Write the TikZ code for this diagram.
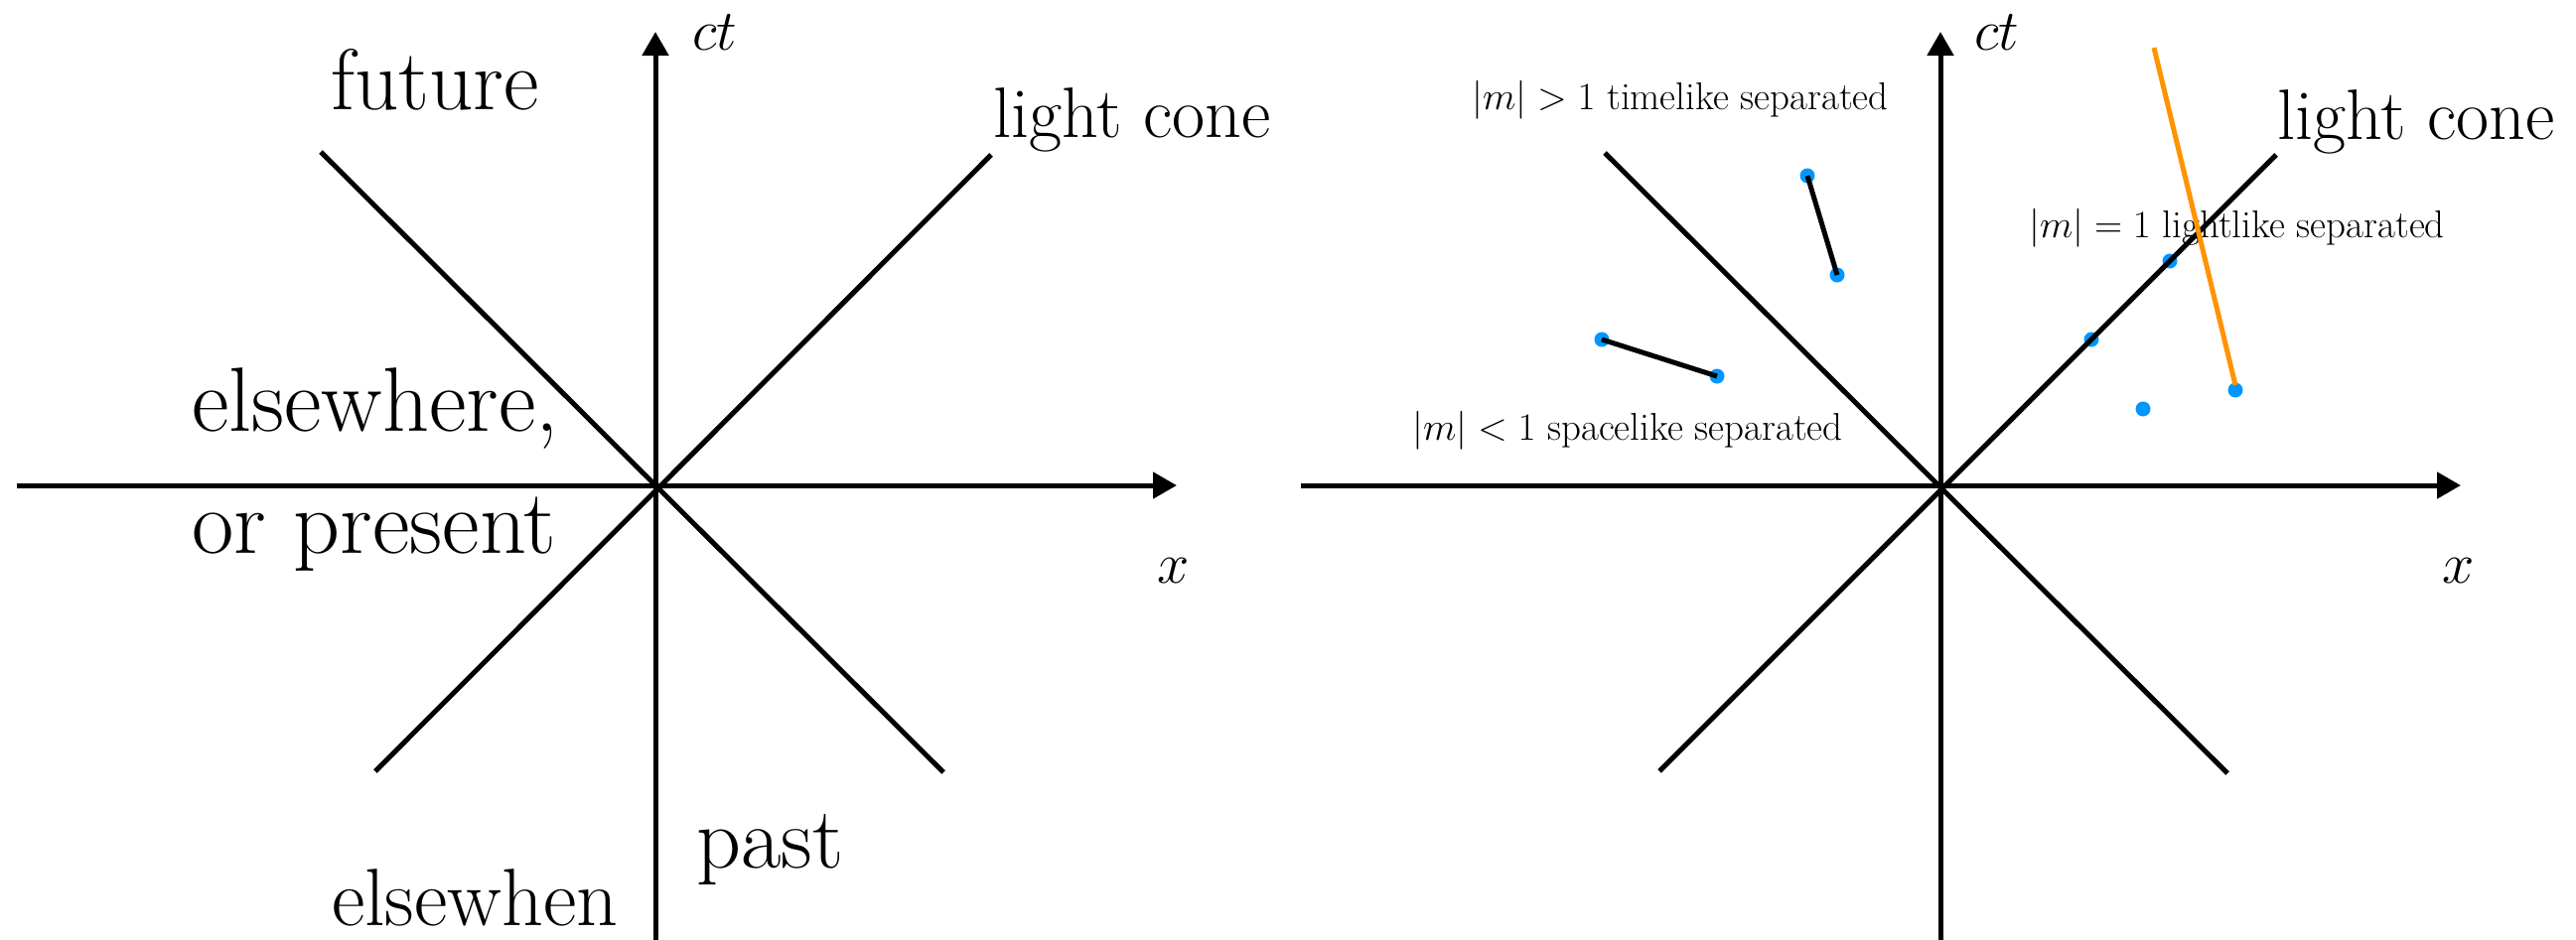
\RequirePackage{fix-cm}
\documentclass[tikz,border=0pt]{standalone}
\usetikzlibrary{arrows.meta}
\definecolor{dotblue}{RGB}{0,150,255}
\definecolor{lineorange}{RGB}{255,147,0}
\tikzset{
  axisline/.style={line width=5pt, -{Triangle[length=24pt,width=26pt]}},
  coneline/.style={line width=5pt},
  evdot/.style={circle, fill=dotblue, inner sep=0pt, minimum size=15pt},
  seg/.style={line width=5pt},
  orangeseg/.style={line width=5pt, draw=lineorange},
  lbl/.style={inner sep=0pt, anchor=base west},
  bigtext/.style={lbl, font=\fontsize{92}{110}\selectfont},
  midtext/.style={lbl, font=\fontsize{72}{86}\selectfont},
  axtext/.style={lbl, font=\fontsize{58}{70}\selectfont},
  smalltext/.style={lbl, font=\fontsize{39}{47}\selectfont},
}
\begin{document}
\begin{tikzpicture}[x=1pt,y=-1pt]
\useasboundingbox (0,0) rectangle (2594,946);

% ---------------- left panel ----------------
\coordinate (lO) at (660,489);
\coordinate (lYb) at (660,950);
\coordinate (lYt) at (660,32);
\coordinate (lXl) at (17,489);
\coordinate (lXr) at (1185,489);
\coordinate (lUL) at (323,153);
\coordinate (lLR) at (950,778);
\coordinate (lUR) at (998,156);
\coordinate (lLL) at (378,777);

\node[lbl, font=\fontsize{87}{104}\selectfont] (future) at (333,110) {future};
\node[bigtext] (elsew) at (193,434) {elsewhere,};
\node[bigtext] (orpres) at (193,557) {or present};
\node[lbl, font=\fontsize{82}{98}\selectfont] (elsewhen) at (334,932) {elsewhen};
\node[lbl, font=\fontsize{88}{105}\selectfont] (past) at (701,874) {past};
\node[midtext] (lcL) at (1000,138) {light cone};
\node[axtext] (ctL) at (697,50) {$ct$};
\node[axtext] (xL) at (1165,587) {$x$};

\draw[axisline] (lYb) -- (lYt);
\draw[axisline] (lXl) -- (lXr);
\draw[coneline] (lUL) -- (lLR);
\draw[coneline] (lUR) -- (lLL);

% ---------------- right panel ----------------
\coordinate (rO) at (1954,489);
\coordinate (rYb) at (1954,950);
\coordinate (rYt) at (1954,32);
\coordinate (rXl) at (1310,489);
\coordinate (rXr) at (2478,489);
\coordinate (rUL) at (1616,154);
\coordinate (rLR) at (2243,779);
\coordinate (rUR) at (2292,156);
\coordinate (rLL) at (1671,777);

\node[smalltext] (tlabel) at (1482,110) {$|m| > 1$ timelike separated};
\node[smalltext] (llabel) at (2043,239) {$|m| = 1$ lightlike separated};
\node[smalltext] (slabel) at (1422,443) {$|m| < 1$ spacelike separated};
\node[midtext] (lcR) at (2293,140) {light cone};
\node[axtext] (ctR) at (1988,50) {$ct$};
\node[axtext] (xR) at (2459,587) {$x$};

\node[evdot] (t1) at (1820,177) {};
\node[evdot] (t2) at (1850,277) {};
\node[evdot] (s1) at (1613,342) {};
\node[evdot] (s2) at (1729,379) {};
\node[evdot] (l1) at (2185,263) {};
\node[evdot] (l2) at (2106,342) {};
\node[evdot] (o1) at (2251,393) {};
\node[evdot] (o2) at (2158,412) {};
\coordinate (otop) at (2169,48);

\draw[axisline] (rYb) -- (rYt);
\draw[axisline] (rXl) -- (rXr);
\draw[coneline] (rUL) -- (rLR);
\draw[coneline] (rUR) -- (rLL);

\draw[seg] (t1.center) -- (t2.center);
\draw[seg] (s1.center) -- (s2.center);
\draw[orangeseg] (otop) -- ([yshift=5pt]o1.center);
\end{tikzpicture}
\end{document}
